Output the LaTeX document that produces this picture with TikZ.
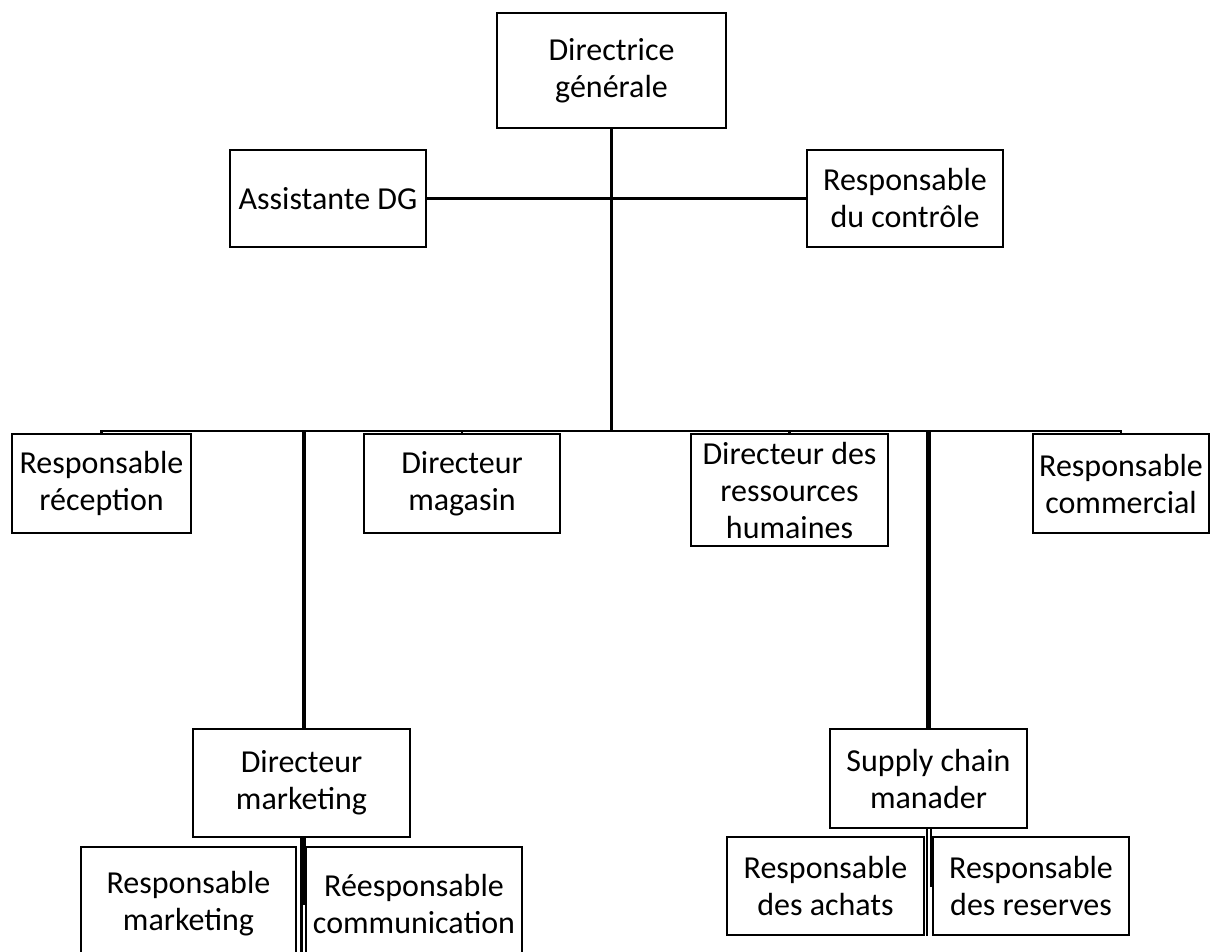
\documentclass[tikz,border=0pt]{standalone}
\usepackage{fontspec}
\setmainfont{Carlito}
\begin{document}
\begin{tikzpicture}[x=1pt,y=-1pt,
  box/.style={draw, line width=2.2pt, align=center, inner sep=0pt,
    font=\fontsize{32}{37}\selectfont},
  link/.style={line width=2.2pt},
  thickline/.style={line width=4.2pt}]
\useasboundingbox (0,0) rectangle (1210,951);
% top
\node[box, minimum width=229pt, minimum height=115pt] (dg) at (611.5,70.5) {Directrice\\générale};
\node[box, minimum width=196pt, minimum height=97pt] (asst) at (328,198.5) {Assistante DG};
\node[box, minimum width=196pt, minimum height=97pt] (ctrl) at (905,198.5) {Responsable\\du contrôle};
% second row
\node[box, minimum width=179pt, minimum height=99pt] (rrec) at (101.5,483.5) {Responsable\\réception};
\node[box, minimum width=196pt, minimum height=99pt] (dmag) at (462,483.5) {Directeur\\magasin};
\node[box, minimum width=197pt, minimum height=112pt] (drh) at (789.5,490) {Directeur des\\ressources\\humaines};
\node[box, minimum width=176pt, minimum height=99pt] (rcom) at (1121,483.5) {Responsable\\commercial};
% marketing
\node[box, minimum width=217pt, minimum height=108pt] (dmk) at (301.5,783) {Directeur\\marketing};
\node[box, minimum width=215pt, minimum height=113pt] (rmk) at (188.5,903.5) {Responsable\\marketing};
\node[box, minimum width=216pt, minimum height=113pt] (rcomm) at (414,903.5) {Réesponsable\\communication};
% supply chain
\node[box, minimum width=197pt, minimum height=99pt] (scm) at (928.5,778.5) {Supply chain\\manader};
\node[box, minimum width=197pt, minimum height=98pt] (rach) at (825.5,886) {Responsable\\des achats};
\node[box, minimum width=196pt, minimum height=98pt] (rres) at (1031,886) {Responsable\\des reserves};
% connectors
\coordinate (bar) at (611.5,431);
\draw[link] (dg.south) -- (bar);
\draw[link] (asst.east) -- (ctrl.west);
\draw[link] (rrec.north) |- (bar) -| (rcom.north);
\draw[link] (dmag.north) |- (bar);
\draw[link] (drh.north) |- (bar);
\draw[thickline] ([xshift=2.5pt]dmk.north) -- ([xshift=2.5pt]dmk.north |- bar);
\draw[thickline] (scm.north) -- (scm.north |- bar);
\draw[link] (dmk.south) -- (dmk.south |- rmk.south);
\draw[link] ([xshift=3pt]dmk.south) |- (rcomm.west);
\draw[link] ([xshift=-1.5pt]scm.south) -- ([xshift=-1.5pt]scm.south |- rach.south);
\draw[link] ([xshift=2.5pt]scm.south) |- (rres.west);
\end{tikzpicture}
\end{document}
